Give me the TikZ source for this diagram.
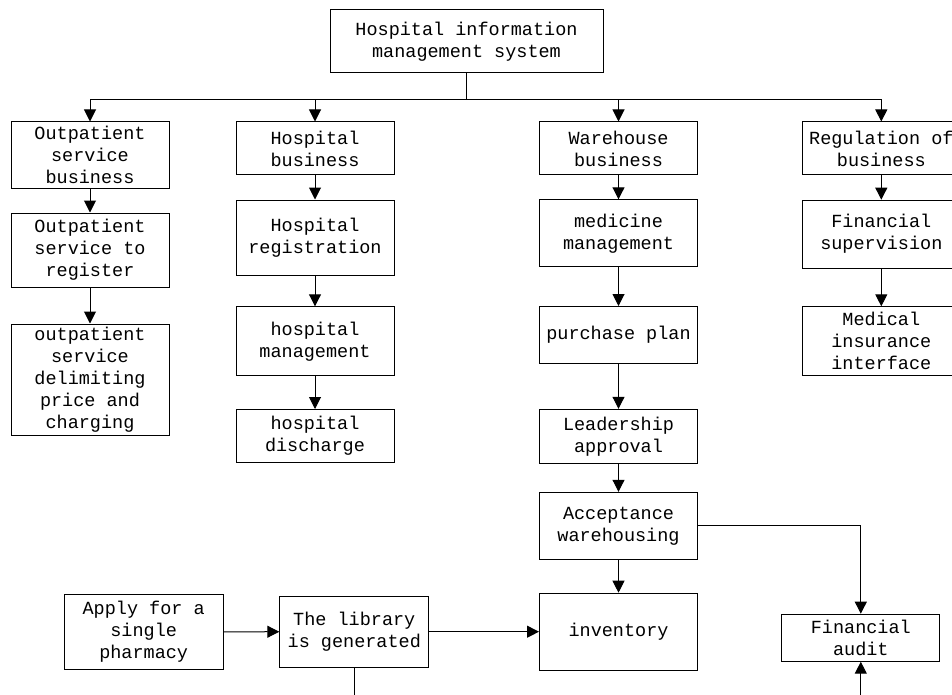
\documentclass[tikz,border=0pt]{standalone}
\usepackage{fontspec}
\usepackage{tikz}
\usetikzlibrary{arrows.meta, calc, positioning}
\newfontfamily\boxFont{Liberation Mono}
\tikzset{
    box/.style={draw, rectangle, line width=1pt, align=center, inner sep=0pt, minimum width=158pt, font=\boxFont\fontsize{18.5}{22}\selectfont},
    edge/.style={-{Triangle[length=12pt, width=12pt]}, line width=1pt},
    wire/.style={line width=1pt},
}

\begin{document}
\begin{tikzpicture}[x=1pt, y=-1pt]

    \useasboundingbox (0, 0) rectangle (952, 695);

    % root
    \node[box, minimum width=273pt, minimum height=63pt] (top) at (466.5, 41.5) {Hospital information\\management system};
    \path (top.south) ++(0, 26) coordinate (bus);

    % outpatient
    \node[box, minimum height=66pt] (c1a) at (90, 155) {Outpatient\\service\\business};
    \node[box, minimum height=74pt] (c1b) at (90, 250) {Outpatient\\service to\\register};
    \node[box, minimum height=111pt] (c1c) at (90, 379.5) {outpatient\\service\\delimiting\\price and\\charging};

    % hospital
    \node[box, minimum height=53pt] (c2a) at (315, 148.5) {Hospital\\business};
    \node[box, minimum height=75pt] (c2b) at (315, 237.5) {Hospital\\registration};
    \node[box, minimum height=69pt] (c2c) at (315, 341.3) {hospital\\management};
    \node[box, minimum height=53pt] (c2d) at (315, 436) {hospital\\discharge};

    % warehouse
    \node[box, minimum height=53pt] (c3a) at (618.5, 148.5) {Warehouse\\business};
    \node[box, minimum height=67pt] (c3b) at (618.5, 233.3) {medicine\\management};
    \node[box, minimum height=57pt] (c3c) at (618.5, 335) {purchase plan};
    \node[box, minimum height=54pt] (c3d) at (618.5, 436.3) {Leadership\\approval};
    \node[box, minimum height=67pt] (c3e) at (618.5, 525.8) {Acceptance\\warehousing};
    \node[box, minimum height=77pt] (c3f) at (618.5, 631.7) {inventory};

    % regulation
    \node[box, minimum height=53pt] (c4a) at (881.3, 148.5) {Regulation of\\business};
    \node[box, minimum height=68pt] (c4b) at (881.3, 234.2) {Financial\\supervision};
    \node[box, minimum height=69pt] (c4c) at (881.3, 341.3) {Medical\\insurance\\interface};

    % bottom row
    \node[box, minimum width=159pt, minimum height=75pt] (apply) at (143.7, 631.8) {Apply for a\\single\\pharmacy};
    \node[box, minimum width=149pt, minimum height=71pt] (lib) at (354.3, 631.7) {The library\\is generated};
    \node[box, minimum height=47pt] (audit) at (860.8, 637.7) {Financial\\audit};
    \coordinate (libout) at (354.3, 695);
    \coordinate (auditin) at (860.8, 695);

    \foreach \n in {c1a, c2a, c3a, c4a}
        \draw[edge] (top.south) -- (bus) -| (\n.north);

    \draw[edge] (c1a) -- (c1b);
    \draw[edge] (c1b) -- (c1c);
    \draw[edge] (c2a) -- (c2b);
    \draw[edge] (c2b) -- (c2c);
    \draw[edge] (c2c) -- (c2d);
    \draw[edge] (c3a) -- (c3b);
    \draw[edge] (c3b) -- (c3c);
    \draw[edge] (c3c) -- (c3d);
    \draw[edge] (c3d) -- (c3e);
    \draw[edge] (c3e) -- (c3f);
    \draw[edge] (c4a) -- (c4b);
    \draw[edge] (c4b) -- (c4c);

    \draw[edge] (apply) -- (lib);
    \draw[edge] (lib) -- (c3f);
    \draw[edge] (c3e.east) -| (audit.north);
    \draw[wire] (lib.south) -- (libout);
    \draw[edge] (auditin) -- (audit.south);

\end{tikzpicture}
\end{document}
